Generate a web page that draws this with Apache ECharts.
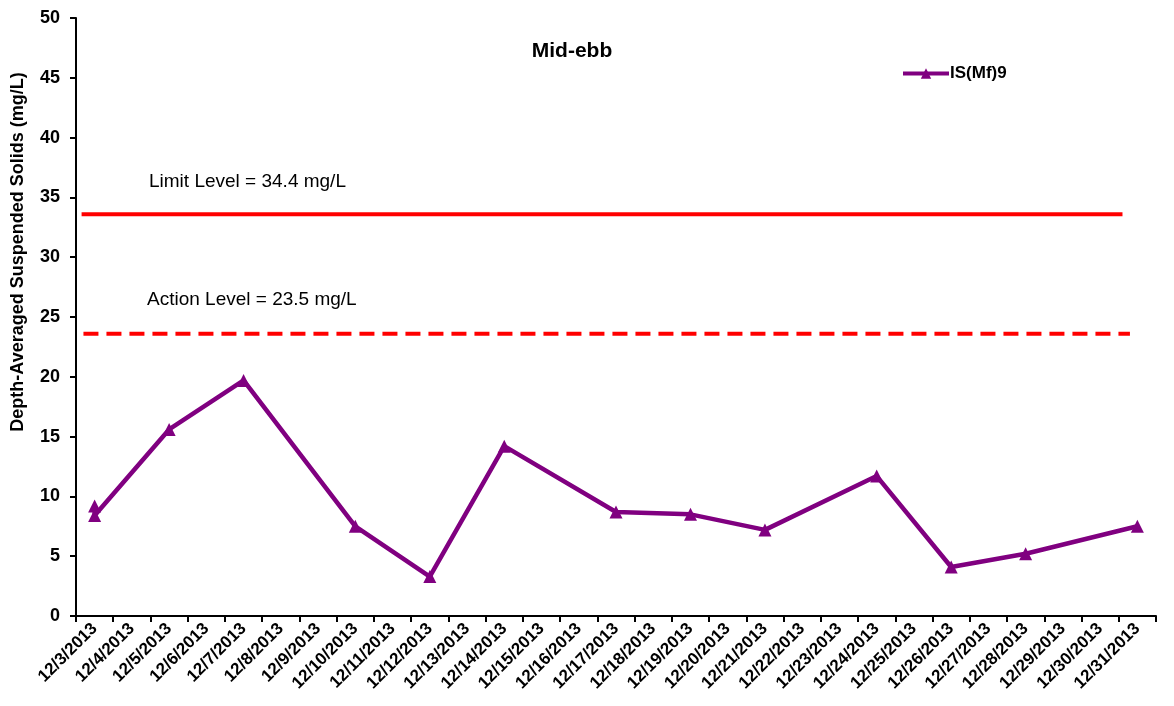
<!DOCTYPE html>
<html>
<head>
<meta charset="utf-8">
<script src="https://cdn.jsdelivr.net/npm/echarts@6/dist/echarts.min.js"></script>
<style>html,body{margin:0;padding:0;background:#fff}#c{width:1174px;height:706px}</style>
</head>
<body>
<div id="c"></div>
<script>
var categories = ['12/3/2013','12/4/2013','12/5/2013','12/6/2013','12/7/2013','12/8/2013','12/9/2013','12/10/2013','12/11/2013','12/12/2013','12/13/2013','12/14/2013','12/15/2013','12/16/2013','12/17/2013','12/18/2013','12/19/2013','12/20/2013','12/21/2013','12/22/2013','12/23/2013','12/24/2013','12/25/2013','12/26/2013','12/27/2013','12/28/2013','12/29/2013','12/30/2013','12/31/2013'];
var sampleDates = ['12/3/2013','12/3/2013','12/5/2013','12/7/2013','12/10/2013','12/12/2013','12/14/2013','12/17/2013','12/19/2013','12/21/2013','12/24/2013','12/26/2013','12/28/2013','12/31/2013'];
var sampleValues = [9.2, 8.4, 15.6, 19.7, 7.5, 3.3, 14.2, 8.7, 8.5, 7.2, 11.7, 4.1, 5.2, 7.5];
var limitLine = {label: 'Limit Level = 34.4 mg/L', value: 33.6, from: -0.35, to: 27.6};
var actionLine = {label: 'Action Level = 23.5 mg/L', value: 23.6, from: -0.3, to: 27.8};
var yTicks = {min: 0, max: 50, interval: 5};

var seriesData = sampleDates.map(function(d, i){ return [categories.indexOf(d), sampleValues[i]]; });

var chart = echarts.init(document.getElementById('c'));
var font = 'Liberation Sans, Arial, sans-serif';
chart.setOption({
  animation: false,
  backgroundColor: '#fff',
  title: {text: 'Mid-ebb', left: 567, top: 36, textAlign: 'center',
    textStyle: {fontFamily: font, fontSize: 21, fontWeight: 'bold', color: '#000'}},
  legend: {data: ['IS(Mf)9'], left: 896, top: 60, itemWidth: 46, itemHeight: 13, itemGap: 4,
    lineStyle: {width: 4},
    textStyle: {fontFamily: font, fontSize: 17, fontWeight: 'bold', color: '#000', padding: [0,0,0,-4]}},
  grid: {left: 76, right: 18, top: 18, bottom: 90, containLabel: false},
  xAxis: [{
    type: 'category', data: categories, boundaryGap: true,
    axisLine: {onZero: false, lineStyle: {color: '#000', width: 2}},
    axisTick: {show: true, interval: 0, length: 6, lineStyle: {color: '#000', width: 2}},
    axisLabel: {interval: 0, rotate: 45, margin: 10, fontFamily: font, fontSize: 17, fontWeight: 'bold', color: '#000'},
    splitLine: {show: false}
  }, {
    type: 'value', min: -0.5, max: categories.length - 0.5, show: false
  }],
  yAxis: {
    type: 'value', min: yTicks.min, max: yTicks.max, interval: yTicks.interval,
    name: 'Depth-Averaged Suspended Solids (mg/L)', nameLocation: 'middle', nameGap: 49, nameRotate: 90,
    nameTextStyle: {fontFamily: font, fontSize: 18, fontWeight: 'bold', color: '#000', padding: [0, 0, 0, 130]},
    axisLine: {show: true, onZero: false, lineStyle: {color: '#000', width: 2}},
    axisTick: {show: true, length: 6, lineStyle: {color: '#000', width: 2}},
    axisLabel: {margin: 16, fontFamily: font, fontSize: 18, fontWeight: 'bold', color: '#000'},
    splitLine: {show: false}
  },
  series: [{
    name: 'Limit', type: 'line', xAxisIndex: 1, symbol: 'none', silent: true,
    data: [[limitLine.from, limitLine.value], [limitLine.to, limitLine.value]],
    lineStyle: {color: '#ff0000', width: 4}
  }, {
    name: 'Action', type: 'line', xAxisIndex: 1, symbol: 'none', silent: true,
    data: [[actionLine.from, actionLine.value], [actionLine.to, actionLine.value]],
    lineStyle: {color: '#ff0000', width: 4, type: [15, 8]}
  }, {
    name: 'IS(Mf)9', type: 'line', xAxisIndex: 1, data: seriesData,
    symbol: 'triangle', symbolSize: 13, color: '#800080',
    itemStyle: {color: '#800080'},
    lineStyle: {color: '#800080', width: 4.5}
  }],
  graphic: [
    {type: 'text', left: 149, top: 172, style: {text: limitLine.label, font: '19px ' + font, fill: '#000'}},
    {type: 'text', left: 147, top: 290, style: {text: actionLine.label, font: '19px ' + font, fill: '#000'}}
  ]
});
</script>
</body>
</html>
